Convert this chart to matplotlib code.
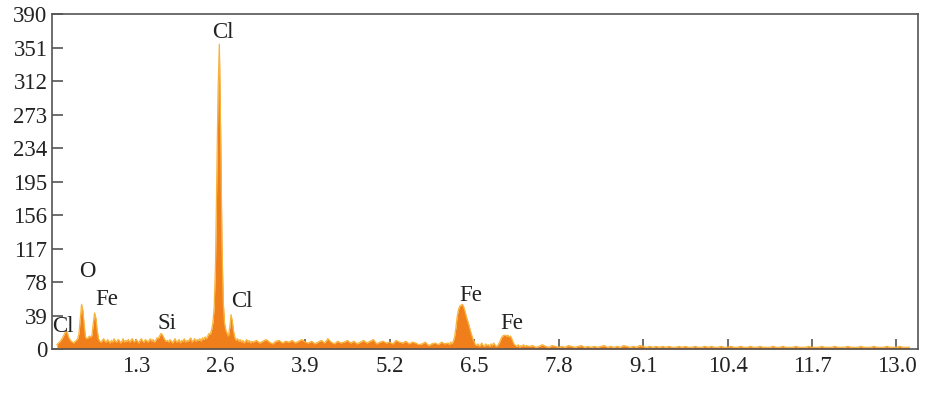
import numpy as np
import matplotlib
matplotlib.use("Agg")
import matplotlib.pyplot as plt

# ---- data (counts) ----
# segment 1: 0.08 - 3.08 keV, 0.02 keV channels
seg1_counts = [
    5, 7, 8, 10, 12, 15, 18, 21, 19, 14,
    11, 9, 8, 7, 9, 10, 12, 18, 35, 52,
    45, 28, 14, 12, 13, 15, 14, 16, 30, 42,
    36, 22, 12, 9, 8, 10, 12, 9, 8, 11,
    9, 7, 10, 8, 12, 9, 8, 11, 10, 7,
    9, 12, 8, 10, 9, 11, 8, 10, 12, 9,
    8, 11, 9, 7, 10, 12, 9, 8, 11, 10,
    8, 10, 12, 9, 11, 8, 10, 13, 12, 15,
    18, 17, 14, 11, 9, 10, 8, 11, 9, 7,
    10, 12, 8, 9, 11, 7, 10, 9, 12, 8,
    10, 9, 11, 13, 8, 10, 12, 9, 11, 10,
    12, 9, 13, 11, 14, 12, 15, 18, 17, 22,
    30, 48, 95, 195, 300, 355, 255, 125, 55, 30,
    22, 18, 15, 25, 40, 32, 20, 13, 10, 12,
    9, 11, 8, 10, 7, 9, 11, 8, 10, 7,
    9,
]
# segment 2: 3.10 - 6.10 keV, 0.05 keV channels
seg2_counts = [
    8, 10, 7, 9, 11, 8, 6, 9, 10, 7,
    9, 8, 10, 7, 9, 11, 8, 7, 9, 6,
    8, 10, 7, 12, 8, 6, 9, 7, 8, 10,
    7, 9, 6, 8, 10, 7, 9, 11, 6, 8,
    9, 7, 8, 6, 10, 8, 7, 9, 6, 8,
    7, 5, 6, 8, 4, 6, 7, 5, 8, 6,
    7,
]
# segment 3: 6.12 - 7.30 keV, 0.02 keV channels
seg3_counts = [
    5, 8, 6, 9, 14, 25, 38, 46, 50, 51,
    52, 49, 44, 38, 33, 28, 22, 17, 12, 9,
    5, 4, 6, 3, 5, 7, 4, 3, 6, 4,
    5, 3, 6, 4, 7, 5, 3, 4, 6, 9,
    13, 15, 16, 16, 15, 16, 14, 15, 12, 8,
    5, 4, 3, 5, 2, 4, 3, 5, 3, 4,
]
# segment 4: 7.35 - 13.20 keV, 0.05 keV channels
seg4_counts = [
    3, 4, 2, 3, 5, 3, 2, 4, 3, 2,
    3, 2, 4, 3, 2, 3, 4, 2, 3, 2,
    3, 2, 3, 4, 2, 3, 2, 3, 2, 4,
    3, 2, 3, 2, 4, 3, 2, 3, 2, 3,
    2, 3, 2, 3, 2, 2, 3, 2, 3, 2,
    2, 3, 2, 2, 3, 2, 3, 2, 2, 3,
    2, 2, 3, 2, 2, 3, 2, 2, 3, 2,
    2, 3, 2, 2, 2, 3, 2, 2, 3, 2,
    2, 2, 3, 2, 2, 2, 3, 2, 2, 2,
    3, 2, 2, 2, 3, 2, 2, 2, 3, 2,
    2, 2, 3, 2, 2, 2, 3, 2, 2, 2,
    3, 2, 2, 2, 3, 2, 2, 2,
]

# channel energy grids (keV)
seg1_energy = np.round(0.08 + 0.02 * np.arange(len(seg1_counts)), 3)
seg2_energy = np.round(3.10 + 0.05 * np.arange(len(seg2_counts)), 3)
seg3_energy = np.round(6.12 + 0.02 * np.arange(len(seg3_counts)), 3)
seg4_energy = np.round(7.35 + 0.05 * np.arange(len(seg4_counts)), 3)

energy = np.concatenate([seg1_energy, seg2_energy, seg3_energy, seg4_energy])
counts = np.array(seg1_counts + seg2_counts + seg3_counts + seg4_counts, dtype=float)

peak_labels = ["Cl", "O", "Fe", "Si", "Cl", "Cl", "Fe", "Fe"]
peak_label_x = [0.17, 0.55, 0.84, 1.78, 2.64, 2.93, 6.45, 7.08]
peak_label_y = [26, 90, 58, 30, 369, 55, 62, 30]

x_ticks = [1.3, 2.6, 3.9, 5.2, 6.5, 7.8, 9.1, 10.4, 11.7, 13.0]
y_ticks = [0, 39, 78, 117, 156, 195, 234, 273, 312, 351, 390]

# ---- figure ----
plt.rcParams['font.family'] = ['Liberation Serif', 'DejaVu Serif']
fig = plt.figure(figsize=(9.26, 3.93), dpi=100)
ax = fig.add_axes([0.0558, 0.112, 0.9355, 0.852])

ax.fill_between(energy, 0, counts, color='#F07E1A', linewidth=0, zorder=2)
ax.plot(energy, counts, color='#F8B43A', linewidth=0.9, zorder=3)

for lab, lx, ly in zip(peak_labels, peak_label_x, peak_label_y):
    ax.text(lx, ly, lab, ha='center', va='center', fontsize=16.5, color='#222222', zorder=4)

ax.set_xlim(0, 13.33)
ax.set_ylim(0, 390)
ax.set_xticks(x_ticks)
ax.set_xticklabels([f"{t:.1f}" for t in x_ticks])
ax.set_yticks(y_ticks)
ax.set_yticklabels([str(t) for t in y_ticks])

for s in ax.spines.values():
    s.set_color('#555555')
    s.set_linewidth(1.2)

ax.tick_params(axis='x', direction='in', length=7.5, width=1.2, color='#555555',
               labelsize=16.5, labelcolor='#222222', pad=5)
ax.tick_params(axis='y', direction='in', length=8, width=1.2, color='#555555',
               labelsize=16.5, labelcolor='#222222', pad=3)

fig.savefig('out.png', dpi=100)
